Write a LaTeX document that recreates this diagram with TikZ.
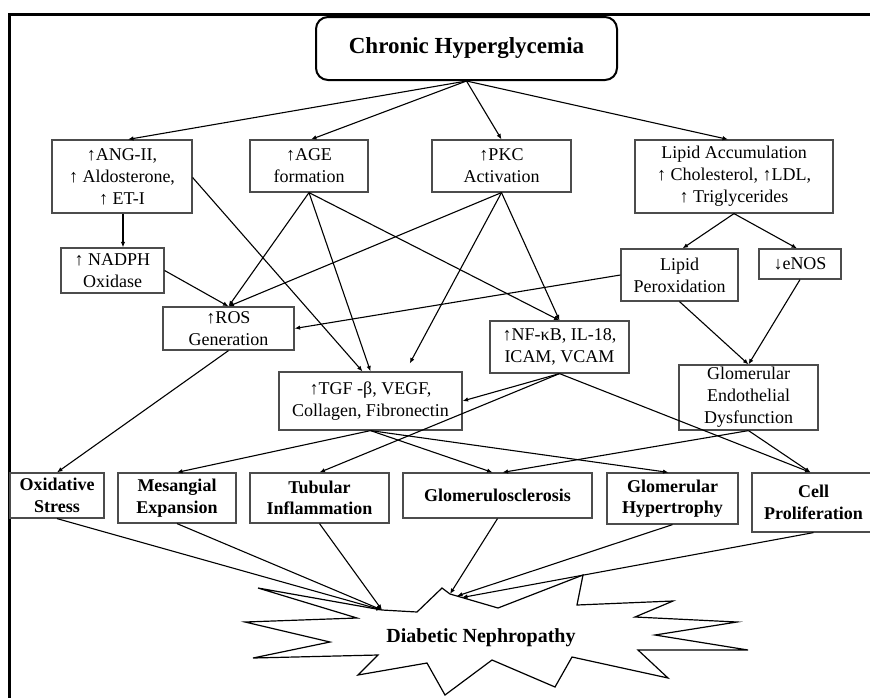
\documentclass[tikz,border=0pt]{standalone}
\usepackage{fontspec}
\setmainfont{Liberation Serif}
\usetikzlibrary{arrows.meta,calc}
\begin{document}
\begin{tikzpicture}[x=1pt,y=-1pt,
  box/.style={draw=black!70,line width=1.2pt,rectangle,inner sep=0pt,align=center,font=\fontsize{18}{22}\selectfont},
  bbox/.style={box,font=\fontsize{18}{21.5}\selectfont\bfseries},
  arr/.style={-{Latex[length=5.5pt,width=4.5pt]},line width=1.1pt},
  burst/.style={line width=1.2pt,fill=white},
]
\useasboundingbox (0,0) rectangle (870,697);
\fill[white] (0,0) rectangle (870,697);
\draw[line width=3pt] (8,14) -- (872,14);
\draw[line width=2.5pt] (9.5,14) -- (9.5,700);

% title
\node[draw,line width=2pt,rounded corners=12pt,minimum width=301,minimum height=63,inner sep=0pt,
      font=\fontsize{23}{27}\selectfont\bfseries] (title) at (466.5,48.5) {Chronic Hyperglycemia};

% second row
\node[box,minimum width=140,minimum height=73] (ang) at (122,176.5) {↑ANG-II,\\↑ Aldosterone,\\↑ ET-I};
\node[box,minimum width=118,minimum height=52] (age) at (309,166) {↑AGE\\formation};
\node[box,minimum width=139,minimum height=52] (pkc) at (501.5,166) {↑PKC\\Activation};
\node[box,minimum width=198,minimum height=73] (lipid) at (734,176.5) {Lipid Accumulation\\↑ Cholesterol, ↑LDL,\\↑ Triglycerides};

% middle
\node[box,minimum width=103,minimum height=45] (nadph) at (112.5,270.5) {↑ NADPH\\Oxidase};
\node[box,minimum width=131,minimum height=43] (ros) at (228.5,328.5) {↑ROS\\Generation};
\node[box,minimum width=183,minimum height=58] (tgf) at (370.5,401) {↑TGF -β, VEGF,\\Collagen, Fibronectin};
\node[box,minimum width=139,minimum height=52] (nfkb) at (559.5,347) {↑NF-κB, IL-18,\\ICAM, VCAM};
\node[box,minimum width=117,minimum height=52] (lperox) at (679.5,275) {Lipid\\Peroxidation};
\node[box,minimum width=82,minimum height=30] (enos) at (800,264) {↓eNOS};
\node[box,minimum width=139,minimum height=65] (ged) at (748.5,397.5) {Glomerular\\Endothelial\\Dysfunction};

% bottom row
\node[bbox,minimum width=94,minimum height=45] (ox) at (57,495.5) {Oxidative\\Stress};
\node[bbox,minimum width=118,minimum height=50] (mes) at (177,498) {Mesangial\\Expansion};
\node[bbox,minimum width=139,minimum height=50] (tub) at (319.5,498) {Tubular\\Inflammation};
\node[bbox,minimum width=189,minimum height=45] (glo) at (497.5,495.5) {Glomerulosclerosis};
\node[bbox,minimum width=131,minimum height=51] (hyp) at (672.5,498.5) {Glomerular\\Hypertrophy};
\node[bbox,minimum width=123,minimum height=59] (cell) at (813.5,502.5) {Cell\\Proliferation};

% starburst
\coordinate (sbA) at (382,610);
\coordinate (sbB) at (450,594);
\coordinate (sbC) at (457,596);
\coordinate (sbD) at (462,597.5);
\draw[burst] (258,588) -- (sbA) -- (417,612) -- (442,588) -- (sbB) -- (498,608) -- (583,575)
  -- (577,605) -- (673,601) -- (635,617) -- (737,622) -- (655,635) -- (748,650) -- (638,650)
  -- (668,678) -- (572,657) -- (555,687) -- (492,660) -- (445,695) -- (427,663) -- (358,675)
  -- (378,655) -- (253,658) -- (330,642) -- (245,622) -- (357,618) -- cycle;
\node[font=\fontsize{20}{24}\selectfont\bfseries] (dn) at (481,638) {Diabetic Nephropathy};

% arrows from title
\draw[arr] (title.south) -- ($(ang.north)+(6,0)$);
\draw[arr] (title.south) -- ($(age.north)+(2,0)$);
\draw[arr] (title.south) -- (pkc.north);
\draw[arr] (title.south) -- ($(lipid.north)+(-6,0)$);

% ANG-II
\draw[arr] ($(ang.south)+(1,0)$) -- ($(nadph.north)+(10.5,0)$);
\draw[arr] ($(ang.east)+(0,1)$) -- ($(tgf.north)+(-8,0)$);

% AGE
\draw[arr] (age.south) -- (ros.north);
\draw[arr] (age.south) -- (tgf.north);
\draw[arr] (age.south) -- (nfkb.north);

% PKC
\draw[arr] (pkc.south) -- (ros.north);
\draw[arr,shorten >=9pt] (pkc.south) -- ($(tgf.north)+(35,0)$);
\draw[arr] (pkc.south) -- (nfkb.north);

% NADPH
\draw[arr] (nadph.east) -- (ros.north);

% lipid
\draw[arr] (lipid.south) -- ($(lperox.north)+(3,0)$);
\draw[arr] (lipid.south) -- ($(enos.north)+(-3,0)$);
\draw[arr] (lperox.west) -- (ros.east);
\draw[arr] (lperox.south) -- (ged.north);
\draw[arr] (enos.south) -- (ged.north);

% ROS
\draw[arr] (ros.south) -- (ox.north);

% NF-kB
\draw[arr] (nfkb.south) -- (tgf.east);
\draw[arr] (nfkb.south) -- (tub.north);
\draw[arr] (nfkb.south) -- ($(cell.north)+(-3,0)$);

% TGF
\draw[arr] (tgf.south) -- (mes.north);
\draw[arr] (tgf.south) -- ($(glo.north)+(-5,0)$);
\draw[arr] (tgf.south) -- ($(hyp.north)+(-4,0)$);

% GED
\draw[arr] (ged.south) -- ($(glo.north)+(5,0)$);
\draw[arr] (ged.south) -- ($(cell.north)+(-3,0)$);

% bottom to burst
\draw[arr] (ox.south) -- (sbA);
\draw[arr] (mes.south) -- (sbA);
\draw[arr] (tub.south) -- (sbA);
\draw[arr] (glo.south) -- (sbB);
\draw[arr] (hyp.south) -- (sbC);
\draw[arr] (cell.south) -- (sbD);
\end{tikzpicture}
\end{document}
